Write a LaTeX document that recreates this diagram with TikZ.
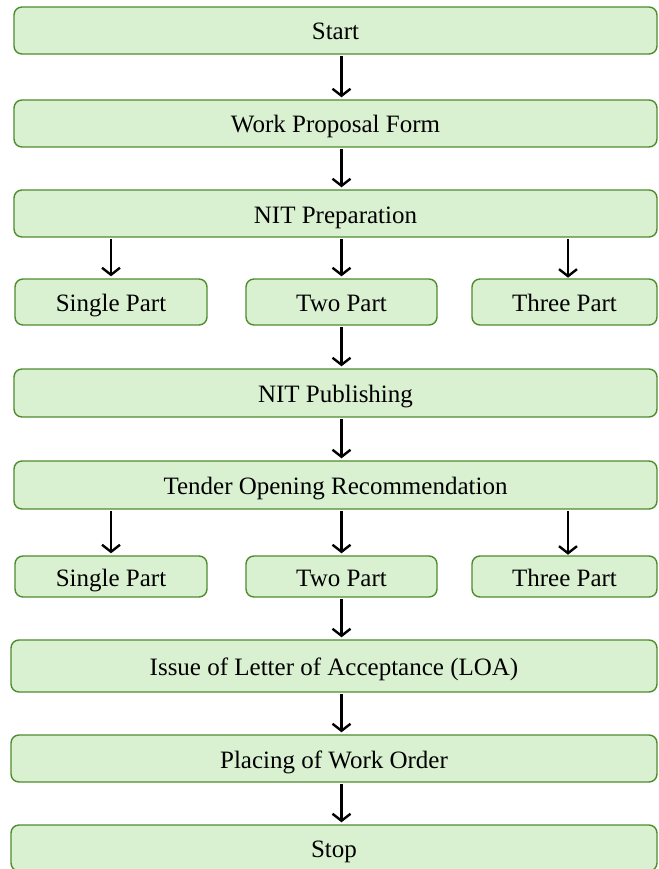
\documentclass[tikz,border=0pt]{standalone}
\usepackage{fontspec}
\setmainfont{Liberation Serif}
\usetikzlibrary{arrows.meta}
\definecolor{stagefill}{RGB}{217,241,209}
\definecolor{stageline}{RGB}{78,140,46}

\begin{document}
\begin{tikzpicture}[x=1pt, y=-1pt, every node/.style={font=\fontsize{25}{28}\selectfont}, >={Straight Barb[length=7pt, width=18pt]},
	stage/.style={draw=stageline, fill=stagefill, line width=1.4pt, rounded corners=8pt, inner sep=0pt, minimum height=47pt, text height=21pt, text depth=2pt},
	flow/.style={->, line width=2.4pt, shorten <=1.5pt, shorten >=2pt}]
	\useasboundingbox (0,0) rectangle (658,869);
	\node[stage, minimum width=643pt] (start) at (335.5,30.5) {Start};
	\node[stage, minimum width=643pt] (wpf) at (335.5,123.5) {Work Proposal Form};
	\node[stage, minimum width=643pt] (prep) at (335.5,213.5) {NIT Preparation};
	\node[stage, minimum width=192pt, minimum height=46pt] (sp1) at (111,302) {Single Part};
	\node[stage, minimum width=191pt, minimum height=46pt] (tp1) at (341.5,302) {Two Part};
	\node[stage, minimum width=185pt, minimum height=46pt] (thp1) at (564.5,302) {Three Part};
	\node[stage, minimum width=643pt, minimum height=48pt] (pub) at (335.5,393) {NIT Publishing};
	\node[stage, minimum width=643pt, minimum height=48pt] (tor) at (335.5,485) {Tender Opening Recommendation};
	\node[stage, minimum width=192pt, minimum height=41pt] (sp2) at (111,576.5) {Single Part};
	\node[stage, minimum width=191pt, minimum height=41pt] (tp2) at (341.5,576.5) {Two Part};
	\node[stage, minimum width=185pt, minimum height=41pt] (thp2) at (564.5,576.5) {Three Part};
	\node[stage, minimum width=646pt, minimum height=52pt] (loa) at (334,666) {Issue of Letter of Acceptance (LOA)};
	\node[stage, minimum width=646pt] (pwo) at (334,758.5) {Placing of Work Order};
	\node[stage, minimum width=646pt, minimum height=46pt] (stop) at (334,848) {Stop};
	\draw[flow] (start.south -| tp1) -- (wpf.north -| tp1);
	\draw[flow] (wpf.south -| tp1) -- (prep.north -| tp1);
	\draw[flow] (prep.south -| sp1) -- (sp1.north);
	\draw[flow] (prep.south -| tp1) -- (tp1.north);
	\draw[flow] (prep.south -| thp1.north) ++(3.5,0) -- ++(0,42);
	\draw[flow] (tp1.south) -- (pub.north -| tp1);
	\draw[flow] (pub.south -| tp1) -- (tor.north -| tp1);
	\draw[flow] (tor.south -| sp2) -- (sp2.north);
	\draw[flow] (tor.south -| tp2) -- (tp2.north);
	\draw[flow] (tor.south -| thp2.north) ++(3.5,0) -- ++(0,47);
	\draw[flow] (tp2.south) -- (loa.north -| tp2);
	\draw[flow] (loa.south -| tp2) -- (pwo.north -| tp2);
	\draw[flow] (pwo.south -| tp2) -- (stop.north -| tp2);
\end{tikzpicture}
\end{document}
